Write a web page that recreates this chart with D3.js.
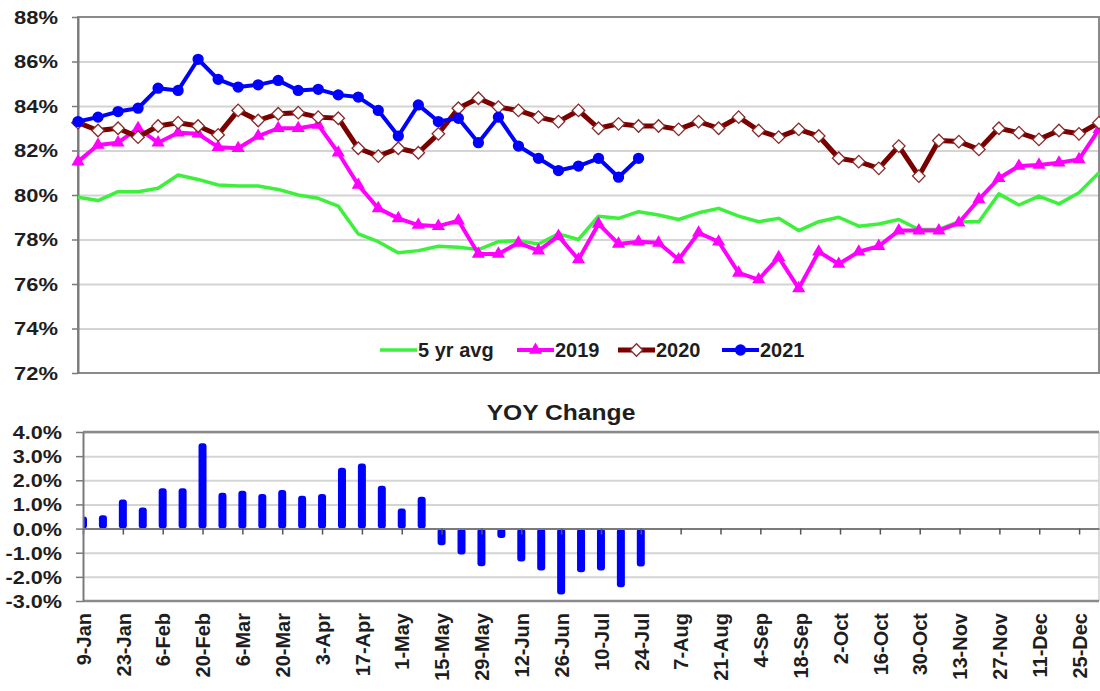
<!DOCTYPE html>
<html><head><meta charset="utf-8">
<script src="https://cdn.jsdelivr.net/npm/d3@7"></script>
<style>
body{margin:0;background:#fff}
svg{display:block}
text{font-family:"Liberation Sans",Arial,sans-serif;font-weight:bold;fill:#1e1e1e}
</style>
</head><body>
<svg id="c" width="1100" height="691"></svg>
<script>
// ---------- DATA ----------
const weeks = ["9-Jan","16-Jan","23-Jan","30-Jan","6-Feb","13-Feb","20-Feb","27-Feb","6-Mar","13-Mar","20-Mar","27-Mar",
  "3-Apr","10-Apr","17-Apr","24-Apr","1-May","8-May","15-May","22-May","29-May","5-Jun","12-Jun","19-Jun","26-Jun",
  "3-Jul","10-Jul","17-Jul","24-Jul","31-Jul","7-Aug","14-Aug","21-Aug","28-Aug","4-Sep","11-Sep","18-Sep","25-Sep",
  "2-Oct","9-Oct","16-Oct","23-Oct","30-Oct","6-Nov","13-Nov","20-Nov","27-Nov","4-Dec","11-Dec","18-Dec","25-Dec","1-Jan"];
const avg5 = [79.9,79.75,80.15,80.15,80.3,80.9,80.7,80.45,80.4,80.4,80.25,80.0,79.85,79.5,78.25,77.9,77.4,77.5,77.7,77.65,
  77.55,77.9,77.95,77.8,78.25,78.0,79.05,78.95,79.25,79.1,78.9,79.2,79.4,79.05,78.8,78.95,78.4,78.8,79.0,78.6,78.7,78.9,
  78.45,78.45,78.8,78.8,80.05,79.55,79.95,79.6,80.1,81.0];
const y2019 = [81.5,82.25,82.35,83.0,82.35,82.8,82.75,82.15,82.1,82.65,83.0,83.0,83.15,81.9,80.45,79.4,78.95,78.65,78.6,78.85,
  77.35,77.35,77.85,77.5,78.15,77.1,78.7,77.8,77.9,77.85,77.1,78.3,77.9,76.5,76.2,77.2,75.8,77.45,76.9,77.45,77.7,78.4,
  78.4,78.4,78.75,79.8,80.75,81.3,81.35,81.45,81.6,82.95];
const y2020 = [83.25,82.9,83.0,82.6,83.1,83.25,83.1,82.7,83.8,83.35,83.65,83.7,83.5,83.45,82.1,81.75,82.1,81.9,82.75,83.9,
  84.35,83.95,83.8,83.5,83.3,83.8,83.0,83.2,83.1,83.1,82.95,83.3,83.0,83.5,82.9,82.6,82.95,82.65,81.65,81.5,81.2,82.2,
  80.85,82.45,82.4,82.05,83.0,82.8,82.5,82.9,82.75,83.25];
const y2021 = [83.3,83.5,83.75,83.9,84.8,84.7,86.1,85.2,84.85,84.95,85.15,84.7,84.75,84.5,84.4,83.8,82.65,84.05,83.3,83.45,
  82.35,83.5,82.2,81.65,81.1,81.3,81.65,80.8,81.65];
const yoy = [0.5,0.55,1.2,0.87,1.67,1.67,3.53,1.48,1.57,1.43,1.6,1.36,1.43,2.52,2.7,1.77,0.83,1.32,-0.69,-1.07,-1.56,-0.39,
  -1.36,-1.74,-2.73,-1.81,-1.74,-2.43,-1.57];
const yTicksTop = [72,74,76,78,80,82,84,86,88];
const yTicksBot = [-3,-2,-1,0,1,2,3,4];
const xTickLabels = weeks.filter((d,i)=>i%2===0);
const seriesNames = ["5 yr avg","2019","2020","2021"];

// ---------- LAYOUT ----------
const svg = d3.select("#c");
const P1 = {l:78,r:1099,t:17,b:373};
const P2 = {l:83,r:1099,t:432,b:601};
const axisCol = "#7a7a7a", gridCol = "#d4d4d4";

const xTop = d3.scalePoint().domain(weeks).range([P1.l,P1.r]);
const yTop = d3.scaleLinear().domain([72,88]).range([P1.b,P1.t]);
const xBot = d3.scalePoint().domain(weeks).range([P2.l,P2.r]);
const yBot = d3.scaleLinear().domain([-3,4]).range([P2.b,P2.t]);

// ---------- TOP CHART ----------
svg.append("g").attr("transform",`translate(${P1.l},0)`)
  .call(d3.axisLeft(yTop).tickValues(yTicksTop.slice(1,-1)).tickSize(-(P1.r-P1.l)).tickFormat(""))
  .call(g=>g.select(".domain").remove())
  .call(g=>g.selectAll("line").attr("stroke",gridCol).attr("stroke-width",2));
svg.append("rect").attr("x",P1.l).attr("y",P1.t).attr("width",P1.r-P1.l).attr("height",P1.b-P1.t)
  .attr("fill","none").attr("stroke","#8a8a8a").attr("stroke-width",2);
const axL = svg.append("g").attr("transform",`translate(${P1.l},0)`)
  .call(d3.axisLeft(yTop).tickValues(yTicksTop).tickSize(6).tickSizeOuter(0).tickFormat(d=>d+"%"));
axL.select(".domain").attr("stroke",axisCol).attr("stroke-width",2);
axL.selectAll("line").attr("stroke",axisCol).attr("stroke-width",1.5);
axL.selectAll("text").attr("x",null).attr("dy","0.36em").style("font-size","18px").attr("fill","#1e1e1e")
  .attr("text-anchor","end").attr("transform","translate(-20,0) scale(1.22,1)");

const lineTop = d3.line().x((d,i)=>xTop(weeks[i])).y(d=>yTop(d));
const styles = [
  {data:avg5, color:"#3cf03c", w:3.5, sym:null},
  {data:y2019, color:"#ff00ff", w:4, sym:"tri"},
  {data:y2020, color:"#7a0000", w:5, sym:"dia"},
  {data:y2021, color:"#0000ff", w:4, sym:"cir"}
];
function marker(g, sym, color){
  if(sym==="cir") g.append("path").attr("d",d3.symbol(d3.symbolCircle,100)()).attr("fill",color);
  if(sym==="tri") g.append("path").attr("d",d3.symbol(d3.symbolTriangle,75)()).attr("fill",color);
  if(sym==="dia") g.append("path").attr("d",d3.symbol(d3.symbolSquare,78)()).attr("transform","rotate(45)")
      .attr("fill","#fff").attr("stroke","#8a2a2a").attr("stroke-width",1.3);
}
styles.forEach(s=>{
  svg.append("path").datum(s.data).attr("d",lineTop).attr("fill","none")
    .attr("stroke",s.color).attr("stroke-width",s.w).attr("stroke-linejoin","round");
  if(s.sym){
    svg.append("g").selectAll("g").data(s.data).join("g")
      .attr("transform",(d,i)=>`translate(${xTop(weeks[i])},${yTop(d)})`)
      .each(function(){ marker(d3.select(this), s.sym, s.color); });
  }
});

// legend
const legX = [380,517,618,722];
const legY = 350;
styles.forEach((s,k)=>{
  const g = svg.append("g").attr("transform",`translate(${legX[k]},${legY})`);
  g.append("line").attr("x1",0).attr("x2",37).attr("stroke",s.color).attr("stroke-width",s.w);
  if(s.sym){ const m=g.append("g").attr("transform","translate(18.5,0)"); marker(m,s.sym,s.color); }
  g.append("text").attr("x",38).attr("dy","0.36em").style("font-size","20px").text(seriesNames[k]);
});

// ---------- BOTTOM CHART ----------
svg.append("g").attr("transform",`translate(${P2.l},0)`)
  .call(d3.axisLeft(yBot).tickValues(yTicksBot.filter(d=>d!==0&&d!==-3)).tickSize(-(P2.r-P2.l)).tickFormat(""))
  .call(g=>g.select(".domain").remove())
  .call(g=>g.selectAll("line").attr("stroke",gridCol).attr("stroke-width",2));
svg.append("line").attr("x1",P2.r).attr("x2",P2.r).attr("y1",P2.t).attr("y2",P2.b).attr("stroke","#d0d0d0").attr("stroke-width",1.5);
svg.append("line").attr("x1",P2.l).attr("x2",P2.r).attr("y1",P2.t).attr("y2",P2.t).attr("stroke","#8a8a8a").attr("stroke-width",2.5);
svg.append("line").attr("x1",P2.l).attr("x2",P2.r).attr("y1",P2.b).attr("y2",P2.b).attr("stroke","#8a8a8a").attr("stroke-width",2.5);

svg.append("defs").append("clipPath").attr("id","clipB").append("rect")
  .attr("x",P2.l).attr("y",P2.t).attr("width",P2.r-P2.l).attr("height",P2.b-P2.t);
svg.append("g").attr("clip-path","url(#clipB)").selectAll("rect").data(yoy).join("rect")
  .attr("x",(d,i)=>xBot(weeks[i])-4).attr("width",8)
  .attr("y",d=>yBot(Math.max(0,d))).attr("height",d=>Math.abs(yBot(d)-yBot(0)))
  .attr("rx",3).attr("fill","#0000ff");

// zero line with ticks
const ax0 = svg.append("g").attr("transform",`translate(0,${yBot(0)})`)
  .call(d3.axisBottom(xBot).tickValues(xTickLabels).tickSize(6).tickSizeOuter(0).tickFormat(""));
ax0.select(".domain").attr("stroke",axisCol).attr("stroke-width",2);
ax0.selectAll("line").attr("stroke","#555").attr("stroke-width",1.5);

const axL2 = svg.append("g").attr("transform",`translate(${P2.l},0)`)
  .call(d3.axisLeft(yBot).tickValues(yTicksBot.concat([])).tickSize(7).tickSizeOuter(0).tickFormat(d=>d.toFixed(1)+"%"));
axL2.select(".domain").attr("stroke",axisCol).attr("stroke-width",2);
axL2.selectAll("line").attr("stroke",axisCol).attr("stroke-width",1.5);
axL2.selectAll("text").attr("x",null).attr("dy","0.36em").style("font-size","18px").attr("fill","#1e1e1e")
  .attr("text-anchor","end").attr("transform","translate(-21,0) scale(1.2,1)");

// x labels
const axB = svg.append("g").attr("transform",`translate(0,${P2.b})`)
  .call(d3.axisBottom(xBot).tickValues(xTickLabels).tickSize(0));
axB.select(".domain").remove();
axB.selectAll("text").attr("y",0).attr("x",-12).attr("dy","0.36em").attr("text-anchor","end")
  .attr("transform","rotate(-90)").style("font-size","20px").attr("fill","#1e1e1e");

// title
svg.append("text").attr("transform","translate(561,420) scale(1.12,1)").attr("text-anchor","middle")
  .style("font-size","22px").text("YOY Change");
</script>
</body></html>
